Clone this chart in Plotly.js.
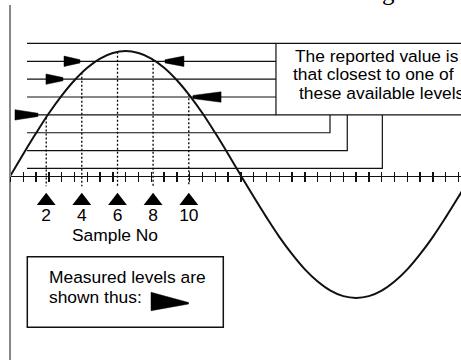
<!DOCTYPE html>
<html><head><meta charset="utf-8">
<script src="https://cdn.plot.ly/plotly-3.0.1.min.js"></script>
<style>html,body{margin:0;padding:0;background:#fff}#chart{width:461px;height:360px}</style>
</head><body><div id="chart"></div>
<script>
// ---------------- data ----------------
// analogue wave: angle (degrees, one axis tick = 10 deg) and value (in level steps)
const waveDeg = [0,10,20,30,40,50,60,70,80,90,100,110,120,130,140,150,160,170,180,
                 190,200,210,220,230,240,250,260,270,280,290,300,310,320,330,340,350,360];
const waveVal = [0,1.21,2.38,3.49,4.48,5.34,6.04,6.55,6.86,6.97,6.86,6.55,6.04,5.34,4.48,3.49,2.38,1.21,0,
                 -1.19,-2.34,-3.43,-4.40,-5.25,-5.93,-6.44,-6.75,-6.85,-6.75,-6.44,-5.93,-5.25,-4.40,-3.43,-2.34,-1.19,0];
// samples
const sampleNo  = [2, 4, 6, 8, 10];
const sampleDeg = [27.9, 55.7, 83.6, 111.4, 139.3];
const sampleVal = [3.26, 5.76, 6.93, 6.49, 4.55];
// available quantisation levels and where their lines end (degrees)
const levels   = [7.4, 6.4, 5.4, 4.4, 3.4, 2.4, 1.4, 0.4];
const levelEnd = [207.4, 207.4, 207.4, 207.4, 207.4, 249.6, 263.1, 290.5];
const levelStart = 12.9;
const boxBottomLevel = 3.4;
// measured level for each sample, arrow tail / tip positions (degrees)
const measuredLevel = [3.4, 5.4, 6.4, 6.4, 4.4];
const arrowTail = [3.5, 27.7, 41.8, 135.5, 164.5];
const arrowTip  = [21.5, 41.0, 54.3, 120.7, 142.6];
// texts
const noteLines   = ["The reported value is", "that closest to one of", "these available levels"];
const legendLines = ["Measured levels are", "shown thus:"];
const axisTitle   = "Sample No";
const titleFragment = "g";

// ---------------- geometry / style ----------------
const W = 461, H = 360;
const X0 = 10.5, PXDEG = 1.28;     // origin pixel, pixels per degree
const Y0 = 175.6, PXU = 17.86;     // axis pixel, pixels per level step
const TOPPX = 5;
const xr = [0, (W - X0) / PXDEG];
const yr = [-(H - Y0) / PXU, (Y0 - TOPPX) / PXU];
const px = p => p / W, py = p => 1 - p / H;   // pixel -> paper
const FONT = "Liberation Sans, Arial, sans-serif";
const FS = 17.4;
const arrowHalf = 0.29, arrowTipHalf = 0.09;
const dashBottom = -0.6, triY = -1.42, labelY = -2.32;

// level lines
const lx = [], ly = [];
levels.forEach((L, i) => {
  lx.push(levelStart, levelEnd[i]); ly.push(L, L);
  if (L < boxBottomLevel) { lx.push(levelEnd[i]); ly.push(boxBottomLevel); }
  lx.push(null); ly.push(null);
});
// dashed sample lines
const dx = [], dy = [];
sampleDeg.forEach((d, i) => { dx.push(d, d, null); dy.push(sampleVal[i], dashBottom, null); });
// arrows
const ax = [], ay = [];
measuredLevel.forEach((L, i) => {
  ax.push(arrowTail[i], arrowTip[i], arrowTip[i], arrowTail[i], arrowTail[i], null);
  ay.push(L + arrowHalf, L + arrowTipHalf, L - arrowTipHalf, L - arrowHalf, L + arrowHalf, null);
});

const traces = [
  {x: lx, y: ly, mode: 'lines', line: {color: '#111', width: 1.2}, hoverinfo: 'skip'},
  {x: dx, y: dy, mode: 'lines', line: {color: '#000', width: 1.3, dash: '2px,2px'}, hoverinfo: 'skip'},
  {x: waveDeg, y: waveVal, mode: 'lines', line: {color: '#111', width: 2, shape: 'spline'}, hoverinfo: 'skip'},
  {x: ax, y: ay, mode: 'lines', fill: 'toself', fillcolor: '#000', line: {color: '#000', width: 0.5}, hoverinfo: 'skip'},
  {x: sampleDeg, y: sampleDeg.map(() => triY), mode: 'markers',
   marker: {symbol: 'triangle-up', size: 16.3, color: '#000', line: {width: 0}}, hoverinfo: 'skip'},
  {x: sampleDeg, y: sampleDeg.map(() => labelY), mode: 'text', text: sampleNo.map(String),
   textposition: 'middle center', textfont: {family: FONT, size: FS, color: '#000'}, hoverinfo: 'skip'},
  {x: [0], y: [0], xaxis: 'x2', mode: 'markers', marker: {opacity: 0}, hoverinfo: 'skip'}
];

const annotations = [
  {xref: 'x', yref: 'y', x: 82, y: -3.35, text: axisTitle, showarrow: false,
   font: {family: FONT, size: FS, color: '#000'}},
  {xref: 'paper', yref: 'paper', x: px(388), y: py(7), xanchor: 'center', yanchor: 'bottom',
   text: titleFragment, showarrow: false, font: {family: 'Liberation Serif, Times New Roman, serif', size: 25, color: '#000'}},
];
const noteX = [293, 291, 297];
noteLines.forEach((t, i) => annotations.push({xref: 'paper', yref: 'paper', x: px(noteX[i]), y: py(55.7 + 18.8 * i),
  xanchor: 'left', yanchor: 'middle', text: t, showarrow: false, font: {family: FONT, size: FS, color: '#000'}}));
legendLines.forEach((t, i) => annotations.push({xref: 'paper', yref: 'paper', x: px(47), y: py(277 + 20 * i),
  xanchor: 'left', yanchor: 'middle', text: t, showarrow: false, font: {family: FONT, size: FS, color: '#000'}}));

const shapes = [
  {type: 'rect', xref: 'x', yref: 'y', x0: levelEnd[0], x1: 400, y0: boxBottomLevel, y1: levels[0],
   line: {color: '#111', width: 1.2}},
  {type: 'rect', xref: 'paper', yref: 'paper', x0: px(27.3), x1: px(223.3), y0: py(327.3), y1: py(256.7),
   line: {color: '#111', width: 1.5}},
  {type: 'path', xref: 'paper', yref: 'paper',
   path: `M${px(151)},${py(292.3)} L${px(188.5)},${py(302.5)} L${px(188.5)},${py(304)} L${px(151)},${py(310.7)} Z`,
   fillcolor: '#000', line: {color: '#000', width: 0.5}}
];

const layout = {
  width: W, height: H, margin: {l: 0, r: 0, t: 0, b: 0},
  paper_bgcolor: '#fff', plot_bgcolor: '#fff', showlegend: false,
  xaxis: {domain: [X0 / W, 1], range: xr, anchor: 'free', position: 1 - Y0 / H,
          showline: true, linecolor: '#111', linewidth: 1.5, ticks: 'outside', ticklen: 4.5,
          tickwidth: 1.4, tickcolor: '#111', tick0: 0, dtick: 10, showticklabels: false,
          showgrid: false, zeroline: false, fixedrange: true},
  xaxis2: {overlaying: 'x', domain: [X0 / W, 1], range: xr, anchor: 'free', position: 1 - Y0 / H,
          showline: false, ticks: 'inside', ticklen: 4, tickwidth: 1.4, tickcolor: '#111',
          tick0: 0, dtick: 10, showticklabels: false, showgrid: false, zeroline: false},
  yaxis: {domain: [0, 1 - TOPPX / H], range: yr, anchor: 'x', showline: true, linecolor: '#888',
          linewidth: 1.2, ticks: '', showticklabels: false, showgrid: false, zeroline: false},
  annotations, shapes
};
Plotly.newPlot('chart', traces, layout, {staticPlot: true, displayModeBar: false});
</script></body></html>
